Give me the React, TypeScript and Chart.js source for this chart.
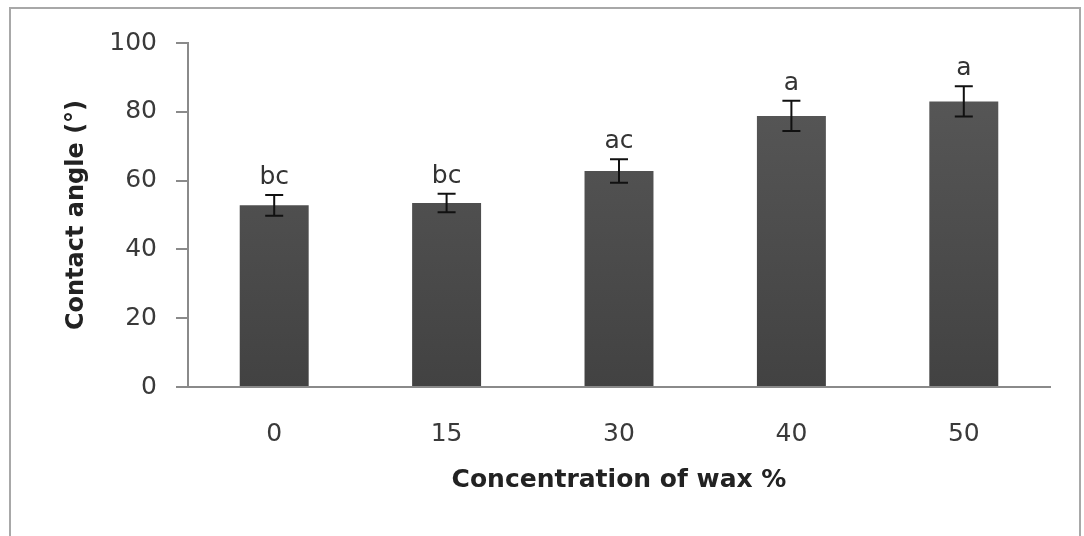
import React, { useEffect, useRef } from "react";
import { Chart, registerables } from "chart.js";

Chart.register(...registerables);

const categories = ["0", "15", "30", "40", "50"];
const contactAngle = [52.8, 53.5, 62.8, 78.8, 83.0];
const errorValues = [3.0, 2.7, 3.4, 4.4, 4.4];
const letters = ["bc", "bc", "ac", "a", "a"];
const yTicks = [0, 20, 40, 60, 80, 100];

const FONT = "'DejaVu Sans', sans-serif";

const errorBarPlugin = {
  id: "errorBars",
  afterDatasetsDraw(chart: any) {
    const ctx = chart.ctx;
    const meta = chart.getDatasetMeta(0);
    const y = chart.scales.y;
    ctx.save();
    meta.data.forEach((bar: any, i: number) => {
      const x = bar.x;
      const top = y.getPixelForValue(contactAngle[i] + errorValues[i]);
      const bottom = y.getPixelForValue(contactAngle[i] - errorValues[i]);
      const cap = 9;
      ctx.strokeStyle = "#111";
      ctx.lineWidth = 2;
      ctx.beginPath();
      ctx.moveTo(x, top);
      ctx.lineTo(x, bottom);
      ctx.moveTo(x - cap, top);
      ctx.lineTo(x + cap, top);
      ctx.moveTo(x - cap, bottom);
      ctx.lineTo(x + cap, bottom);
      ctx.stroke();
      ctx.fillStyle = "#333";
      ctx.font = `25px ${FONT}`;
      ctx.textAlign = "center";
      ctx.textBaseline = "alphabetic";
      ctx.fillText(letters[i], x, top - 11);
    });
    ctx.restore();
  },
};

export default function App() {
  const canvasRef = useRef<HTMLCanvasElement | null>(null);

  useEffect(() => {
    if (!canvasRef.current) return;
    const chart = new Chart(canvasRef.current, {
      type: "bar",
      data: {
        labels: categories,
        datasets: [
          {
            data: contactAngle,
            backgroundColor: (c: any) => {
              const area = c.chart.chartArea;
              if (!area) return "#4d4d4d";
              const g = c.chart.ctx.createLinearGradient(0, area.top, 0, area.bottom);
              g.addColorStop(0, "#5a5a5a");
              g.addColorStop(1, "#424242");
              return g;
            },
            borderWidth: 0,
            categoryPercentage: 1,
            barPercentage: 0.4,
          },
        ],
      },
      options: {
        responsive: false,
        animation: false,
        layout: { padding: { left: 58, top: 43, right: 34, bottom: 37 } },
        plugins: {
          legend: { display: false },
          tooltip: { enabled: false },
        },
        scales: {
          x: {
            grid: { display: false },
            border: { display: true, color: "#8a8a8a", width: 2 },
            ticks: {
              color: "#3a3a3a",
              font: { family: FONT, size: 25 },
              padding: 24,
            },
            title: {
              display: true,
              text: "Concentration of wax %",
              color: "#222",
              font: { family: FONT, size: 25, weight: "bold" },
            },
            afterFit: (s: any) => {
              s.height = 112;
            },
          },
          y: {
            min: 0,
            max: 100,
            afterBuildTicks: (s: any) => {
              s.ticks = yTicks.map((v) => ({ value: v }));
            },
            grid: {
              drawOnChartArea: false,
              drawTicks: true,
              tickLength: 12,
              color: "#8a8a8a",
              lineWidth: 2,
            },
            border: { display: true, color: "#8a8a8a", width: 2 },
            ticks: {
              color: "#3a3a3a",
              font: { family: FONT, size: 25 },
              padding: 19,
            },
            title: {
              display: true,
              text: "Contact angle (°)",
              color: "#222",
              font: { family: FONT, size: 24, weight: "bold" },
            },
            afterFit: (s: any) => {
              s.width = 130;
            },
          },
        },
      },
      plugins: [errorBarPlugin],
    });
    return () => chart.destroy();
  }, []);

  return (
    <div
      style={{
        position: "fixed",
        left: 0,
        top: 0,
        width: 1084,
        height: 536,
        background: "#fff",
        overflow: "hidden",
      }}
    >
      <canvas ref={canvasRef} width={1084} height={536} style={{ display: "block" }} />
      <div
        style={{
          position: "absolute",
          left: 9,
          top: 7,
          width: 1068,
          height: 560,
          border: "2px solid #a8a8a8",
          pointerEvents: "none",
        }}
      />
    </div>
  );
}
